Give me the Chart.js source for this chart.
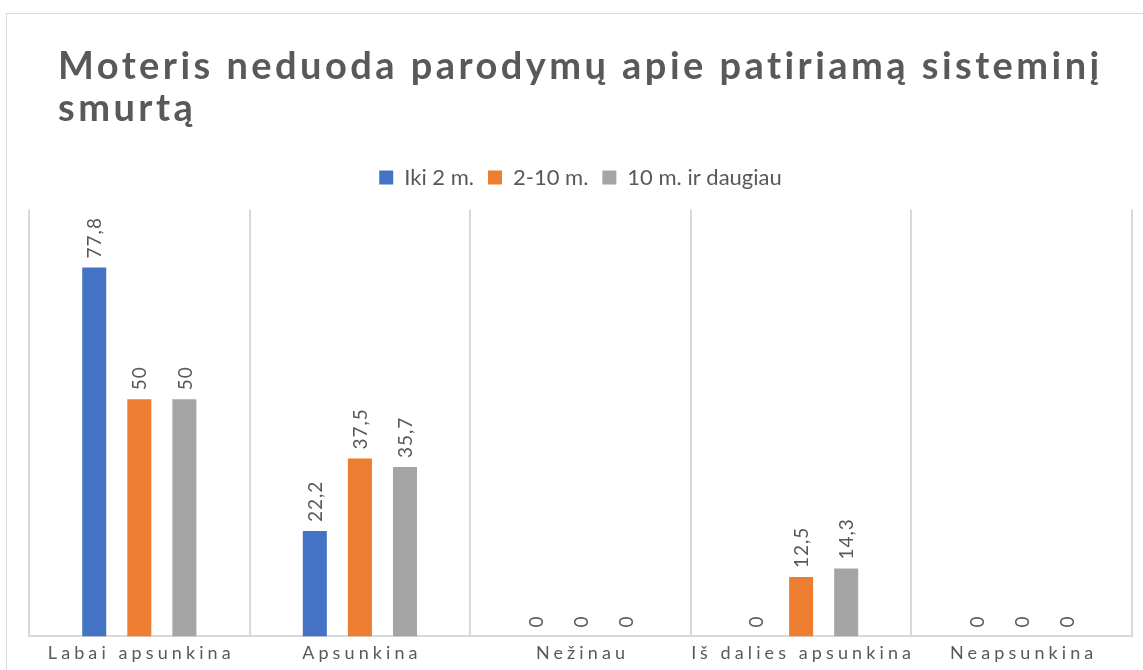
<!DOCTYPE html>
<html>
<head>
<meta charset="utf-8">
<script src="https://cdn.jsdelivr.net/npm/chart.js@4/dist/chart.umd.min.js"></script>
<style>
  html, body { margin: 0; padding: 0; background: #fff; }
  #frame {
    position: absolute; left: 6px; top: 13px;
    width: 1137px; height: 657px;
    border-left: 1px solid #d9d9d9; border-top: 1px solid #d9d9d9;
  }
  #wrap { position: relative; width: 1136px; height: 656px; }
</style>
</head>
<body>
<div id="frame"><div id="wrap"><canvas id="chartSmurtas"></canvas></div></div>
<script>
// ---- duomenys ----
const kategorijos = ['Labai apsunkina', 'Apsunkina', 'Nežinau', 'Iš dalies apsunkina', 'Neapsunkina'];
const serijos = ['Iki 2 m.', '2-10 m.', '10 m. ir daugiau'];
const iki2 = [77.8, 22.2, 0, 0, 0];
const nuo2iki10 = [50, 37.5, 0, 12.5, 0];
const virs10 = [50, 35.7, 0, 14.3, 0];
const spalvos = ['#4472C4', '#ED7D31', '#A5A5A5'];
const yMax = 90;

const FONT = 'Lato, "Open Sans", sans-serif';
const TEXT = '#595959';

// reikšmės virš stulpelių (pasuktos 90°)
const reiksmiuPlugin = {
    id: 'reiksmes',
    afterDatasetsDraw(chart) {
        const ctx = chart.ctx;
        ctx.save();
        ctx.fillStyle = TEXT;
        ctx.font = '19px ' + FONT;
        ctx.letterSpacing = '1px';
        ctx.textAlign = 'left';
        ctx.textBaseline = 'middle';
        chart.data.datasets.forEach((ds, i) => {
            chart.getDatasetMeta(i).data.forEach((bar, j) => {
                const txt = String(ds.data[j]).replace('.', ',');
                ctx.save();
                ctx.translate(bar.x, bar.y - 9);
                ctx.rotate(-Math.PI / 2);
                ctx.fillText(txt, 0, 1);
                ctx.restore();
            });
        });
        ctx.restore();
    }
};

// išretintos raidės pavadinime ir ašies žymose
const tarpuPlugin = {
    id: 'tarpai',
    afterUpdate(chart) {
        const x = chart.scales.x;
        if (x && !x._tarpai) {
            const orig = x.drawLabels.bind(x);
            x.drawLabels = function (area) {
                const c = this.ctx;
                c.save();
                c.letterSpacing = '4.1px';
                c.translate(2, 0);
                orig(area);
                c.restore();
            };
            x._tarpai = true;
        }
        const t = chart.titleBlock;
        if (t && !t._tarpai) {
            const origT = t.draw.bind(t);
            t.draw = function () {
                const c = this.ctx;
                c.save();
                c.letterSpacing = '3.45px';
                c.translate(29, 0);
                origT();
                c.restore();
            };
            t._tarpai = true;
        }
    }
};

new Chart(document.getElementById('chartSmurtas').getContext('2d'), {
    type: 'bar',
    data: {
        labels: kategorijos,
        datasets: [
            { label: serijos[0], data: iki2, backgroundColor: spalvos[0] },
            { label: serijos[1], data: nuo2iki10, backgroundColor: spalvos[1] },
            { label: serijos[2], data: virs10, backgroundColor: spalvos[2] }
        ]
    },
    options: {
        responsive: true,
        maintainAspectRatio: false,
        animation: false,
        datasets: { bar: { categoryPercentage: 0.613, barPercentage: 0.533 } },
        layout: { padding: { left: 22, right: 11, bottom: 0, top: 0 } },
        scales: {
            x: {
                grid: { display: true, offset: true, color: '#d9d9d9', lineWidth: 2, drawTicks: false },
                border: { display: true, color: '#d9d9d9', width: 2 },
                ticks: { color: TEXT, font: { family: FONT, size: 18 }, padding: 6, maxRotation: 0 }
            },
            y: {
                display: false,
                min: 0,
                max: yMax
            }
        },
        plugins: {
            title: {
                display: true,
                text: ['Moteris neduoda parodymų apie patiriamą sisteminį', 'smurtą'],
                align: 'start',
                color: TEXT,
                font: { family: FONT, size: 38, weight: 'bold', lineHeight: 1.1 },
                padding: { top: 32, bottom: 23 }
            },
            // tuščias tarpas tarp legendos ir diagramos
            subtitle: {
                display: true,
                text: '',
                font: { size: 8 },
                padding: { top: 0, bottom: 1.4 }
            },
            legend: {
                position: 'top',
                weight: 1800,
                labels: {
                    color: TEXT,
                    font: { family: FONT, size: 22 },
                    boxWidth: 14,
                    boxHeight: 14,
                    padding: 14
                }
            },
            tooltip: { enabled: false }
        }
    },
    plugins: [reiksmiuPlugin, tarpuPlugin]
});
</script>
</body>
</html>
